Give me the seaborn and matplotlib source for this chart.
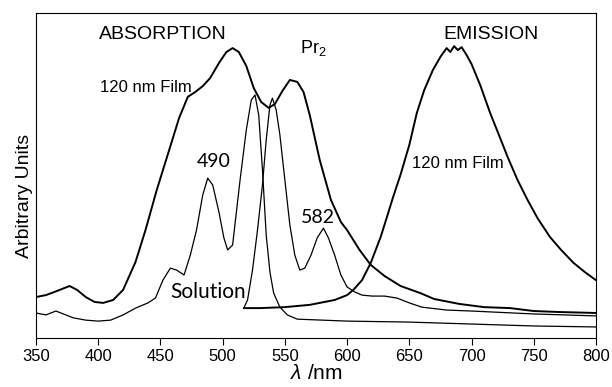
import seaborn as sns
import pandas as pd
import matplotlib.pyplot as plt
import numpy as np

# spectra (wavelength in nm, arbitrary units 0..1)
film_abs_nm = [350, 358, 365, 371, 377, 383, 390, 397, 404, 412, 420, 430, 438, 447, 457, 465,
               472, 478, 484, 490, 497, 503, 508, 513, 519, 525, 531, 537, 542, 548, 554, 560,
               565, 570, 578, 587, 595, 600, 610, 619, 630, 643, 659, 670, 690, 710, 731, 750,
               770, 800]
film_abs = [0.126, 0.132, 0.142, 0.151, 0.160, 0.148, 0.126, 0.111, 0.108, 0.117, 0.148, 0.234,
            0.332, 0.455, 0.578, 0.677, 0.742, 0.757, 0.775, 0.800, 0.846, 0.880, 0.892, 0.880,
            0.837, 0.769, 0.726, 0.708, 0.720, 0.760, 0.794, 0.788, 0.757, 0.686, 0.548, 0.425,
            0.357, 0.332, 0.271, 0.225, 0.191, 0.160, 0.138, 0.120, 0.105, 0.095, 0.092, 0.083,
            0.080, 0.077]

sol_abs_nm = [350, 358, 366, 372, 380, 390, 400, 410, 420, 430, 440, 446, 452, 458, 463, 469,
              474, 479, 484, 488, 492, 497, 501, 504, 508, 514, 519, 523, 526, 529, 532, 535,
              538, 541, 546, 552, 560, 580, 600, 650, 700, 750, 800]
sol_abs = [0.077, 0.071, 0.083, 0.074, 0.062, 0.055, 0.052, 0.055, 0.071, 0.092, 0.108, 0.123,
           0.178, 0.215, 0.209, 0.194, 0.255, 0.332, 0.440, 0.492, 0.471, 0.388, 0.308, 0.271,
           0.286, 0.486, 0.640, 0.732, 0.748, 0.686, 0.517, 0.317, 0.203, 0.138, 0.095, 0.071,
           0.058, 0.055, 0.052, 0.049, 0.043, 0.037, 0.034]

sol_em_nm = [517, 520, 524, 528, 532, 535, 538, 540, 543, 546, 550, 554, 558, 562, 566, 571,
             576, 581, 585, 590, 595, 600, 606, 612, 620, 630, 640, 650, 660, 680, 700, 750, 800]
sol_em = [0.092, 0.117, 0.209, 0.332, 0.471, 0.609, 0.717, 0.738, 0.702, 0.625, 0.486, 0.348,
          0.255, 0.209, 0.215, 0.255, 0.308, 0.338, 0.308, 0.255, 0.194, 0.157, 0.142, 0.132,
          0.129, 0.129, 0.123, 0.108, 0.095, 0.086, 0.083, 0.074, 0.068]

film_em_nm = [517, 530, 550, 570, 590, 600, 605, 612, 619, 627, 632, 637, 643, 650, 656, 662,
              669, 675, 680, 683, 686, 689, 692, 696, 700, 707, 715, 722, 729, 737, 745, 753,
              763, 772, 782, 791, 800]
film_em = [0.092, 0.092, 0.095, 0.102, 0.117, 0.132, 0.148, 0.178, 0.231, 0.311, 0.372, 0.434,
           0.503, 0.594, 0.692, 0.763, 0.825, 0.865, 0.892, 0.880, 0.898, 0.886, 0.895, 0.871,
           0.843, 0.778, 0.692, 0.625, 0.557, 0.486, 0.425, 0.369, 0.311, 0.271, 0.231, 0.203,
           0.178]

xticks = [350, 400, 450, 500, 550, 600, 650, 700, 750, 800]

sns.set_style("ticks")
plt.rcParams['font.family'] = ['Liberation Sans', 'DejaVu Sans']
plt.rcParams['mathtext.fontset'] = 'custom'
plt.rcParams['mathtext.rm'] = 'Liberation Sans'
plt.rcParams['mathtext.it'] = 'Liberation Sans:italic'
plt.rcParams['text.color'] = 'black'
plt.rcParams['axes.labelcolor'] = 'black'
plt.rcParams['xtick.color'] = 'black'

fig = plt.figure(figsize=(6.12, 3.87), dpi=100)
ax = fig.add_axes([0.0588, 0.1266, 0.915, 0.8398])

thick = 1.4
thin = 0.9
sns.lineplot(x=film_abs_nm, y=film_abs, ax=ax, color='black', lw=thick)
sns.lineplot(x=sol_abs_nm, y=sol_abs, ax=ax, color='black', lw=thin)
sns.lineplot(x=sol_em_nm, y=sol_em, ax=ax, color='black', lw=thin)
sns.lineplot(x=film_em_nm, y=film_em, ax=ax, color='black', lw=thick)

ax.set_xlim(350, 800)
ax.set_ylim(0, 1)
ax.set_xticks(xticks)
ax.set_yticks([])
ax.tick_params(axis='x', direction='out', length=5, width=0.8, labelsize=12, pad=3)
for s in ax.spines.values():
    s.set_color('black')
    s.set_linewidth(0.8)

ax.set_xlabel(r'$\it{\lambda}$ /nm', fontsize=15, labelpad=0)
ax.set_ylabel('Arbitrary Units', fontsize=14)
ax.yaxis.set_label_coords(-0.006, 0.438)

ax.text(452, 0.919, 'ABSORPTION', fontsize=14, ha='center', va='baseline')
ax.text(716, 0.919, 'EMISSION', fontsize=14, ha='center', va='baseline')
ax.text(438, 0.758, '120 nm Film', fontsize=12, ha='center', va='baseline')
ax.text(689, 0.522, '120 nm Film', fontsize=12, ha='center', va='baseline')
ax.text(562, 0.876, 'Pr$_2$', fontsize=13, ha='left', va='baseline')
ax.text(492.6, 0.527, '490', fontsize=14, ha='center', va='baseline', family='Lato')
ax.text(576.4, 0.354, '582', fontsize=14, ha='center', va='baseline', family='Lato')
ax.text(488.3, 0.123, 'Solution', fontsize=15, ha='center', va='baseline', family='Lato')

fig.savefig('out.png', dpi=100)
